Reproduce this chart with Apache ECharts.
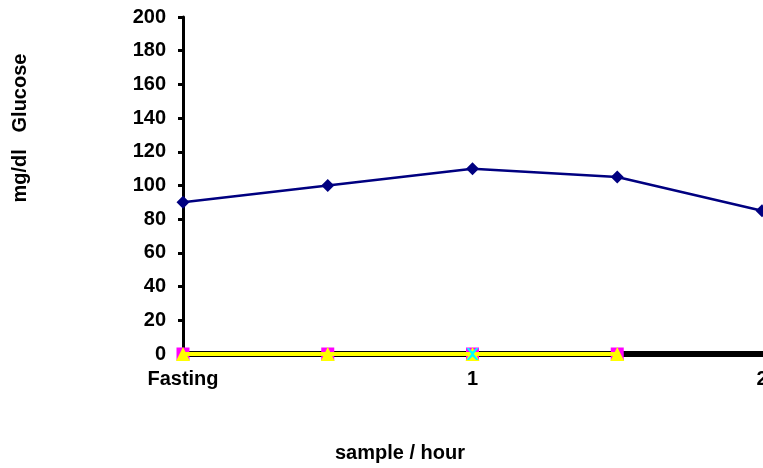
<!DOCTYPE html>
<html>
<head>
<meta charset="utf-8">
<script src="https://cdn.jsdelivr.net/npm/echarts@6/dist/echarts.min.js"></script>
<style>
  html, body { margin: 0; padding: 0; background: #fff; }
  #main { width: 763px; height: 468px; }
</style>
</head>
<body>
<div id="main"></div>
<script>
// 数据
var categories = ['Fasting', '0.5', '1', '1.5', '2'];
var glucose = [90, 100, 110, 105, 85];
var seriesSquare = [0, 0, 0, 0, null];
var seriesTriangle = [0, 0, 0, 0, null];
var seriesCross = [null, null, 0, null, null];
var yTicks = { min: 0, max: 200, interval: 20 };

var font = 'Liberation Sans, Arial, sans-serif';

var myChart = echarts.init(document.getElementById('main'));
var option = {
  animation: false,
  grid: { left: 183, right: 1, top: 17, bottom: 114, outerBoundsMode: 'none', containLabel: false },
  xAxis: {
    type: 'category',
    data: categories,
    boundaryGap: false,
    axisLine: { lineStyle: { color: '#000', width: 6 } },
    axisTick: { show: false },
    axisLabel: {
      interval: 1,
      margin: 15,
      color: '#000',
      fontFamily: font,
      fontWeight: 'bold',
      fontSize: 20
    },
    splitLine: { show: false }
  },
  yAxis: {
    type: 'value',
    min: yTicks.min,
    max: yTicks.max,
    interval: yTicks.interval,
    axisLine: { show: true, lineStyle: { color: '#000', width: 3 } },
    axisTick: { show: true, length: 5, lineStyle: { color: '#000', width: 3 } },
    axisLabel: {
      margin: 17,
      color: '#000',
      fontFamily: font,
      fontWeight: 'bold',
      fontSize: 20
    },
    splitLine: { show: false }
  },
  graphic: [
    {
      type: 'text',
      x: 20,
      y: 128,
      rotation: Math.PI / 2,
      style: {
        text: 'mg/dl   Glucose',
        fontFamily: font,
        fontWeight: 'bold',
        fontSize: 20,
        fill: '#000',
        align: 'center',
        verticalAlign: 'middle'
      }
    },
    {
      type: 'text',
      x: 400,
      y: 453,
      style: {
        text: 'sample / hour',
        fontFamily: font,
        fontWeight: 'bold',
        fontSize: 20,
        fill: '#000',
        align: 'center',
        verticalAlign: 'middle'
      }
    }
  ],
  series: [
    {
      name: 'Glucose',
      type: 'line',
      data: glucose,
      symbol: 'diamond',
      symbolSize: 13,
      lineStyle: { color: '#000080', width: 2.5 },
      itemStyle: { color: '#000080' },
      z: 5
    },
    {
      name: 'B',
      type: 'line',
      data: seriesSquare,
      symbol: 'rect',
      symbolSize: 13,
      lineStyle: { color: '#FF00FF', width: 2 },
      itemStyle: { color: '#FF00FF' },
      z: 6
    },
    {
      name: 'C',
      type: 'line',
      data: seriesTriangle,
      symbol: 'triangle',
      symbolSize: 14,
      lineStyle: { color: '#FFFF00', width: 4 },
      itemStyle: { color: '#FFFF00' },
      z: 7
    },
    {
      name: 'D',
      type: 'line',
      data: seriesCross,
      symbol: 'path://M0,0 L2,0 L5,3 L8,0 L10,0 L6,5 L10,10 L8,10 L5,7 L2,10 L0,10 L4,5 Z',
      symbolSize: 12,
      lineStyle: { color: '#00FFFF', width: 2 },
      itemStyle: { color: '#00FFFF' },
      z: 8
    }
  ]
};
myChart.setOption(option);
</script>
</body>
</html>
